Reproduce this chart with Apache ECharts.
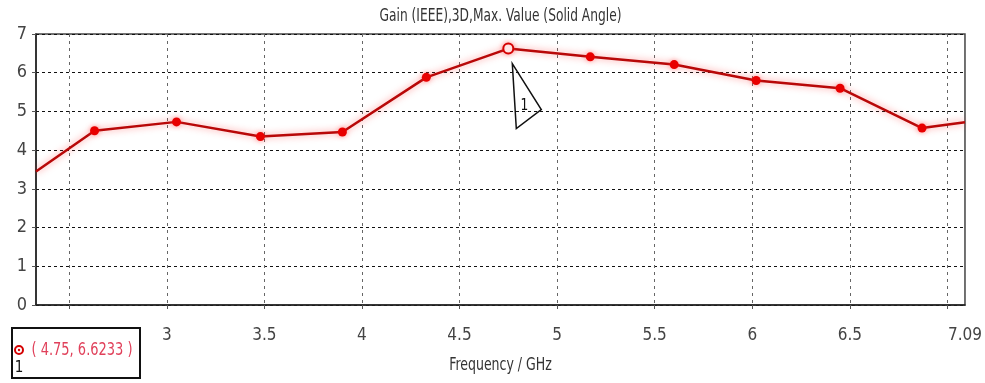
<!DOCTYPE html>
<html>
<head>
<meta charset="utf-8">
<script src="https://cdn.jsdelivr.net/npm/echarts@6/dist/echarts.min.js"></script>
<style>
  html, body { margin: 0; padding: 0; background: #fff; }
  #chart { width: 985px; height: 383px; }
</style>
</head>
<body>
<div id="chart"></div>
<script>
// Gain vs frequency sweep
const frequency = [2.33, 2.63, 3.05, 3.48, 3.90, 4.33, 4.75, 5.17, 5.60, 6.02, 6.45, 6.87, 7.09];
const gain      = [3.45, 4.50, 4.73, 4.35, 4.47, 5.88, 6.6233, 6.41, 6.21, 5.80, 5.60, 4.57, 4.72];
const markedIndex = 6;          // point carrying marker "1"
const xTickValues  = [2.5, 3, 3.5, 4, 4.5, 5, 5.5, 6, 6.5, 7];
const xLabelValues = [2.33, 3, 3.5, 4, 4.5, 5, 5.5, 6, 6.5, 7.09];
const yTicks = [0, 1, 2, 3, 4, 5, 6, 7];
const titleText = 'Gain (IEEE),3D,Max. Value (Solid Angle)';
const xAxisTitle = 'Frequency / GHz';

const FONT = '"DejaVu Sans Condensed", "Liberation Sans Narrow", "DejaVu Sans", sans-serif';
const RED = '#d40000';

const chart = echarts.init(document.getElementById('chart'), null, { renderer: 'canvas' });

const lineData = frequency.map((f, i) => {
  const item = { value: [f, gain[i]] };
  if (i === 0 || i === frequency.length - 1) {
    item.symbol = 'none';
  } else if (i === markedIndex) {
    item.symbolSize = 10;
    item.itemStyle = { color: '#fff', borderColor: RED, borderWidth: 2 };
  }
  return item;
});

chart.setOption({
  animation: false,
  grid: {
    left: 36, right: 20, top: 34, bottom: 78,
    show: true, borderColor: '#444', borderWidth: 1.5, backgroundColor: '#fff'
  },
  xAxis: {
    type: 'value',
    min: frequency[0],
    max: frequency[frequency.length - 1],
    axisLine: { show: true, onZero: false, lineStyle: { color: '#222', width: 1.5 } },
    axisTick: { show: true, inside: false, length: 4, customValues: xTickValues, lineStyle: { color: '#555' } },
    axisLabel: {
      customValues: xLabelValues,
      showMinLabel: true, showMaxLabel: true, hideOverlap: false,
      margin: 22,
      fontFamily: FONT, fontSize: 17, color: '#444'
    },
    splitLine: { show: true, lineStyle: { color: '#666', type: [3, 4], width: 1 } }
  },
  yAxis: {
    type: 'value',
    min: yTicks[0],
    max: yTicks[yTicks.length - 1],
    interval: 1,
    axisLine: { show: true, lineStyle: { color: '#222', width: 1.5 } },
    axisTick: { show: true, length: 4, lineStyle: { color: '#555' } },
    axisLabel: { margin: 9, fontFamily: FONT, fontSize: 18, color: '#444' },
    splitLine: { show: true, lineStyle: { color: '#111', type: [3, 3], width: 1 } }
  },
  series: [{
    type: 'line',
    data: lineData,
    symbol: 'circle',
    symbolSize: 9,
    showAllSymbol: true,
    lineStyle: { color: '#b80808', width: 2.5, shadowColor: 'rgba(255,60,60,0.6)', shadowBlur: 7 },
    itemStyle: { color: '#e80000', shadowColor: 'rgba(255,60,60,0.5)', shadowBlur: 5 },
    z: 5
  }]
});

// Marker annotation: pointer triangle below the marked point plus the readout box
const anchor = chart.convertToPixel({ xAxisIndex: 0, yAxisIndex: 0 }, [frequency[markedIndex], gain[markedIndex]]);
const ax = anchor[0], ay = anchor[1];
const plotCenterX = (36 + (985 - 20)) / 2;

chart.setOption({
  graphic: [
    {
      type: 'text',
      x: plotCenterX, y: 17, scaleX: 0.8,
      style: { text: titleText, fontFamily: FONT, fontSize: 17, fill: '#333', align: 'center', verticalAlign: 'middle' },
      z: 10
    },
    {
      type: 'text',
      x: plotCenterX, y: 366, scaleX: 0.82,
      style: { text: xAxisTitle, fontFamily: FONT, fontSize: 17, fill: '#333', align: 'center', verticalAlign: 'middle' },
      z: 10
    },
    {
      type: 'polygon',
      shape: { points: [[ax + 4, ay + 15], [ax + 33, ay + 61], [ax + 8, ay + 80]] },
      style: { fill: 'none', stroke: '#111', lineWidth: 1.5 },
      z: 10
    },
    {
      type: 'text',
      x: ax + 16, y: ay + 57, scaleX: 0.85,
      style: { text: '1', fontFamily: FONT, fontSize: 16, fill: '#111', align: 'center', verticalAlign: 'middle' },
      z: 10
    },
    {
      type: 'rect',
      shape: { x: 12, y: 328, width: 128, height: 50 },
      style: { fill: '#fff', stroke: '#111', lineWidth: 2 },
      z: 20
    },
    {
      type: 'circle',
      shape: { cx: 19, cy: 350, r: 4 },
      style: { fill: '#fff', stroke: RED, lineWidth: 2 },
      z: 21
    },
    {
      type: 'circle',
      shape: { cx: 19, cy: 350, r: 1.2 },
      style: { fill: RED },
      z: 22
    },
    {
      type: 'text',
      x: 19, y: 368,
      style: { text: '1', fontFamily: FONT, fontSize: 15, fill: '#111', align: 'center', verticalAlign: 'middle' },
      z: 21
    },
    {
      type: 'text',
      x: 82, y: 351, scaleX: 0.85,
      style: {
        text: '( ' + frequency[markedIndex] + ', ' + gain[markedIndex] + ' )',
        fontFamily: FONT, fontSize: 17, fill: '#e0405a', align: 'center', verticalAlign: 'middle'
      },
      z: 21
    }
  ]
});
</script>
</body>
</html>
